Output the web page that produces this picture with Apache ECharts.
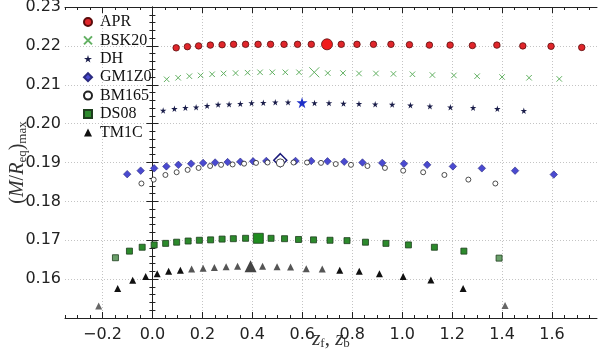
<!DOCTYPE html>
<html>
<head>
<meta charset="utf-8">
<script src="https://cdn.jsdelivr.net/npm/echarts@6/dist/echarts.min.js"></script>
<style>
  html, body { margin: 0; padding: 0; background: #fff; }
  #chart { width: 600px; height: 353px; }
</style>
</head>
<body>
<div id="chart"></div>
<script>
// values, index 12 of every model is the big marker
const xTicks = [-0.2, 0.0, 0.2, 0.4, 0.6, 0.8, 1.0, 1.2, 1.4, 1.6];
const yTicks = [0.16, 0.17, 0.18, 0.19, 0.20, 0.21, 0.22, 0.23];
const bigIndex = 12;

const aprX = [0.095, 0.14, 0.185, 0.232, 0.279, 0.325, 0.373, 0.423, 0.473, 0.527, 0.581, 0.636, 0.699, 0.756, 0.819, 0.885, 0.955, 1.029, 1.109, 1.192, 1.281, 1.379, 1.483, 1.596, 1.719];
const aprY = [0.2195, 0.2198, 0.2200, 0.2202, 0.2203, 0.2204, 0.2204, 0.2204, 0.2204, 0.2204, 0.2204, 0.2204, 0.2204, 0.2204, 0.2204, 0.2204, 0.2204, 0.2203, 0.2202, 0.2202, 0.2201, 0.2202, 0.2200, 0.2199, 0.2196];

const bskX = [0.057, 0.103, 0.148, 0.193, 0.239, 0.285, 0.333, 0.381, 0.431, 0.48, 0.532, 0.587, 0.648, 0.702, 0.763, 0.827, 0.895, 0.965, 1.041, 1.121, 1.207, 1.3, 1.4, 1.508, 1.629];
const bskY = [0.2114, 0.2118, 0.2122, 0.2124, 0.2127, 0.2129, 0.2130, 0.2131, 0.2132, 0.2132, 0.2132, 0.2132, 0.2132, 0.2130, 0.2130, 0.2129, 0.2129, 0.2128, 0.2127, 0.2125, 0.2124, 0.2122, 0.2120, 0.2118, 0.2115];

const dhX = [0.043, 0.088, 0.132, 0.175, 0.219, 0.263, 0.307, 0.352, 0.397, 0.444, 0.492, 0.543, 0.599, 0.649, 0.707, 0.765, 0.827, 0.892, 0.96, 1.033, 1.111, 1.193, 1.284, 1.381, 1.487];
const dhY = [0.2034, 0.2038, 0.2041, 0.2042, 0.2046, 0.2049, 0.2050, 0.2051, 0.2053, 0.2054, 0.2055, 0.2055, 0.2054, 0.2053, 0.2053, 0.2052, 0.2051, 0.2050, 0.2049, 0.2047, 0.2045, 0.2042, 0.2041, 0.2038, 0.2033];

const gmX = [-0.101, -0.047, 0.007, 0.056, 0.104, 0.155, 0.203, 0.251, 0.301, 0.352, 0.403, 0.456, 0.512, 0.573, 0.636, 0.701, 0.768, 0.841, 0.92, 1.007, 1.1, 1.203, 1.319, 1.452, 1.607];
const gmY = [0.1870, 0.1879, 0.1885, 0.1890, 0.1894, 0.1897, 0.1899, 0.1900, 0.1901, 0.1902, 0.1903, 0.1904, 0.1906, 0.1904, 0.1904, 0.1903, 0.1902, 0.1900, 0.1899, 0.1897, 0.1894, 0.1890, 0.1885, 0.1879, 0.1869];

const bmX = [-0.044, 0.005, 0.052, 0.097, 0.141, 0.185, 0.231, 0.275, 0.321, 0.367, 0.415, 0.461, 0.512, 0.565, 0.619, 0.675, 0.734, 0.795, 0.861, 0.931, 1.004, 1.084, 1.169, 1.265, 1.373];
const bmY = [0.1846, 0.1856, 0.1868, 0.1875, 0.1881, 0.1886, 0.1891, 0.1894, 0.1895, 0.1897, 0.1899, 0.1900, 0.1899, 0.1900, 0.1900, 0.1899, 0.1896, 0.1894, 0.1891, 0.1886, 0.1879, 0.1875, 0.1868, 0.1856, 0.1846];

const dsX = [-0.148, -0.092, -0.041, 0.007, 0.053, 0.097, 0.143, 0.188, 0.233, 0.279, 0.324, 0.373, 0.424, 0.475, 0.529, 0.585, 0.645, 0.711, 0.779, 0.853, 0.935, 1.025, 1.129, 1.247, 1.388];
const dsY = [0.1655, 0.1672, 0.1682, 0.1688, 0.1692, 0.1695, 0.1698, 0.1700, 0.1701, 0.1703, 0.1704, 0.1705, 0.1705, 0.1705, 0.1704, 0.1702, 0.1701, 0.1700, 0.1699, 0.1695, 0.1692, 0.1688, 0.1682, 0.1672, 0.1654];

const tmX = [-0.215, -0.139, -0.079, -0.027, 0.019, 0.065, 0.112, 0.157, 0.203, 0.248, 0.295, 0.341, 0.393, 0.441, 0.499, 0.553, 0.616, 0.68, 0.75, 0.828, 0.909, 1.004, 1.115, 1.244, 1.412];
const tmY = [0.1531, 0.1576, 0.1597, 0.1607, 0.1614, 0.1620, 0.1623, 0.1626, 0.1628, 0.1630, 0.1632, 0.1633, 0.1633, 0.1633, 0.1632, 0.1631, 0.1627, 0.1626, 0.1623, 0.1620, 0.1614, 0.1607, 0.1598, 0.1576, 0.1532];

const STAR = 'path://M50,0L61,35L98,35L68,57L79,91L50,70L21,91L32,57L2,35L39,35Z';
const CROSS = 'path://M0,0L10,10M10,0L0,10';
const tmGrey = [7, 8, 9, 10, 11, 13, 14, 15, 16, 17];

function points(xs, ys, big, tone) {
  return xs.map((x, i) => {
    const item = { value: [x, ys[i]] };
    if (i === bigIndex) Object.assign(item, big);
    const t = tone && tone(i, xs.length);
    if (t) item.itemStyle = Object.assign({}, item.itemStyle, t);
    return item;
  });
}
const ends = (c) => (i, n) => (i === 0 || i === n - 1) ? { color: c } : null;

const minorX = [];
for (let v = -0.35; v <= 1.78; v += 0.05) minorX.push(+v.toFixed(2));
const fmtX = v => (v < 0 ? '\u2212' + Math.abs(v).toFixed(1) : v.toFixed(1));

const chart = echarts.init(document.getElementById('chart'));
const tickFont = { fontFamily: 'DejaVu Sans', fontSize: 16, color: '#222' };
const serif = 'Liberation Serif';

function xAxis(pos, custom, len, main) {
  return {
    type: 'value', position: pos, min: -0.35, max: 1.78,
    axisLine: { show: main, onZero: false, lineStyle: { color: '#222', width: 1 } },
    axisTick: { show: true, inside: true, length: len, customValues: custom, lineStyle: { color: '#222' } },
    axisLabel: pos === 'bottom' && main ? Object.assign({ customValues: xTicks, formatter: fmtX, margin: 9 }, tickFont) : { show: false },
    splitLine: { show: pos === 'bottom' && main, lineStyle: { color: '#c4c4c4', type: [1, 2], width: 1 } }
  };
}

chart.setOption({
  animation: false,
  grid: { left: 65, right: 3, top: 7, bottom: 35, outerBoundsMode: 'none', containLabel: false },
  legend: {
    orient: 'vertical', left: 78, top: 9, itemGap: 2.4, itemWidth: 8, itemHeight: 8,
    textStyle: { fontFamily: serif, fontSize: 16, color: '#111', padding: [0, 0, 0, 3] },
    data: ['APR', 'BSK20', 'DH', 'GM1Z0', 'BM165', 'DS08', 'TM1C']
  },
  xAxis: [
    Object.assign(xAxis('bottom', xTicks, 6, true), {
      name: '{i|z}{s|f}{a|, }{i|z}{s|b}', nameLocation: 'middle', nameGap: 10, nameMoveOverlap: false,
      nameTextStyle: {
        rich: {
          i: { fontFamily: serif, fontStyle: 'italic', fontSize: 21, color: '#333' },
          a: { fontFamily: serif, fontSize: 21, color: '#333' },
          s: { fontFamily: serif, fontSize: 13, color: '#333', verticalAlign: 'bottom', padding: [9, 0, 0, 0] }
        }
      }
    }),
    xAxis('bottom', minorX, 3, false),
    xAxis('top', xTicks, 6, true),
    xAxis('top', minorX, 3, false)
  ],
  yAxis: [
    {
      type: 'value', min: 0.15, max: 0.23, interval: 0.01, position: 'left',
      axisLine: { show: true, lineStyle: { color: '#222' } },
      axisTick: { show: true, inside: true, length: 6, lineStyle: { color: '#222' } },
      minorTick: { show: true, splitNumber: 5, length: 3, lineStyle: { color: '#222' } },
      axisLabel: Object.assign({ margin: 4, showMinLabel: false, formatter: v => v.toFixed(2) }, tickFont),
      splitLine: { show: true, lineStyle: { color: '#c4c4c4', type: [1, 2], width: 1 } },
      name: '{a|(}{i|M}{a|/}{i|R}{s|eq}{a|)}{s|max}', nameLocation: 'middle', nameGap: 36, nameRotate: 90,
      nameMoveOverlap: false,
      nameTextStyle: {
        rich: {
          i: { fontFamily: serif, fontStyle: 'italic', fontSize: 20, color: '#333' },
          a: { fontFamily: serif, fontSize: 20, color: '#333' },
          s: { fontFamily: serif, fontSize: 13, color: '#333', verticalAlign: 'bottom', padding: [9, 0, 0, 0] }
        }
      }
    },
    {
      type: 'value', min: 0.15, max: 0.23, interval: 0.01, position: 'right',
      axisLine: { show: true, lineStyle: { color: '#222' } },
      axisTick: { show: true, inside: true, length: 6, lineStyle: { color: '#222' } },
      minorTick: { show: true, splitNumber: 5, length: 3, lineStyle: { color: '#222' } },
      axisLabel: { show: false }, splitLine: { show: false }
    }
  ],
  series: [
    { name: 'APR', type: 'scatter', symbol: 'circle', symbolSize: 6.5,
      itemStyle: { color: '#e0262b', borderColor: '#5a0c0c', borderWidth: 0.8, opacity: 1 },
      data: points(aprX, aprY, { symbolSize: 11, itemStyle: { color: '#f01c1c' } }) },
    { name: 'BSK20', type: 'scatter', symbol: CROSS, symbolSize: 5.5,
      itemStyle: { color: 'transparent', borderColor: '#62b062', borderWidth: 1, opacity: 1 },
      data: points(bskX, bskY, { symbolSize: 10 }) },
    { name: 'DH', type: 'scatter', symbol: STAR, symbolSize: 6.5,
      itemStyle: { color: '#1a1d4a', opacity: 1 },
      data: points(dhX, dhY, { symbolSize: 11, itemStyle: { color: '#1d2fc8' } }) },
    { name: 'GM1Z0', type: 'scatter', symbol: 'diamond', symbolSize: 7.5,
      itemStyle: { color: '#4a4ad0', borderColor: '#2a2a80', borderWidth: 0.6, opacity: 1 },
      data: points(gmX, gmY, { symbolSize: 13, itemStyle: { color: '#fff', borderColor: '#1a1a7a', borderWidth: 1.5 } }) },
    { name: 'BM165', type: 'scatter', symbol: 'circle', symbolSize: 5,
      itemStyle: { color: '#fff', borderColor: '#222', borderWidth: 0.8, opacity: 1 },
      data: points(bmX, bmY, { symbolSize: 8 }) },
    { name: 'DS08', type: 'scatter', symbol: 'rect', symbolSize: 6,
      itemStyle: { color: '#2c8a2c', borderColor: '#1d3d1d', borderWidth: 0.8, opacity: 1 },
      data: points(dsX, dsY, { symbolSize: 10, itemStyle: { color: '#1f8c1f' } }, ends('#6a9f6a')) },
    { name: 'TM1C', type: 'scatter', symbol: 'triangle', symbolSize: 7,
      itemStyle: { color: '#111', opacity: 1 },
      data: points(tmX, tmY, { symbolSize: 12, itemStyle: { color: '#444' } },
        (i, n) => (i === 0 || i === n - 1) ? { color: '#666' } : (tmGrey.includes(i) ? { color: '#555' } : null)) }
  ]
});
</script>
</body>
</html>
